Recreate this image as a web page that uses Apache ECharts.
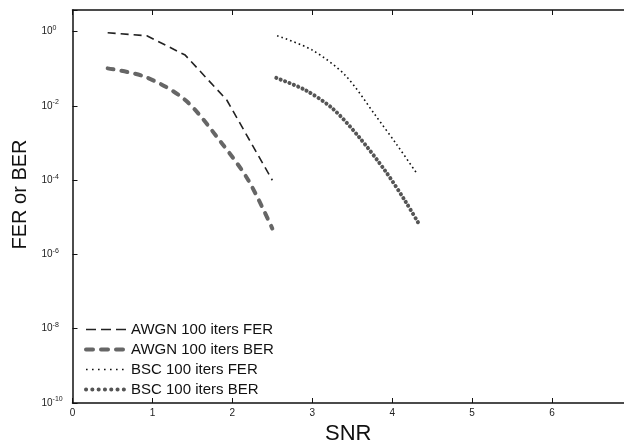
<!DOCTYPE html>
<html>
<head>
<meta charset="utf-8">
<title>FER / BER vs SNR</title>
<script src="https://cdn.jsdelivr.net/npm/echarts@6/dist/echarts.min.js"></script>
<style>
    html, body { margin: 0; padding: 0; background: #fff; }
    #SnrChart { width: 624px; height: 440px; }
</style>
</head>
<body>
<div id="SnrChart"></div>
<script>
//data
var seriesNames = ["AWGN 100 iters FER", "AWGN 100 iters BER", "BSC 100 iters FER", "BSC 100 iters BER"];

var awgnFerSnr = [0.44, 0.93, 1.41, 1.93, 2.50];
var awgnFerVal = [0.94, 0.78, 0.235, 0.0145, 1.0e-4];

var awgnBerSnr = [0.44, 0.91, 1.41, 1.87, 2.20, 2.50];
var awgnBerVal = [0.103, 0.061, 0.0145, 9.8e-4, 1.0e-4, 5.0e-6];

var bscFerSnr = [2.56, 3.00, 3.41, 3.79, 4.06, 4.31];
var bscFerVal = [0.78, 0.32, 0.068, 5.6e-3, 8.9e-4, 1.5e-4];

var bscBerSnr = [2.55, 2.91, 3.25, 3.58, 3.92, 4.17, 4.33];
var bscBerVal = [0.057, 0.027, 8.7e-3, 1.5e-3, 1.7e-4, 2.6e-5, 6.9e-6];

function pairs(xs, ys) {
    var out = [];
    for (var i = 0; i < xs.length; i++) {
        out.push([xs[i], ys[i]]);
    }
    return out;
}

//10^n labels, only even powers
function powLabel(v) {
    var e = Math.log10(v);
    var r = Math.round(e);
    if (Math.abs(e - r) > 1e-6 || r % 2 !== 0) {
        return "";
    }
    return "{b|10}{s|" + (r === 0 ? "0" : "-" + (-r)) + "}";
}

var SnrChart_option = {
    backgroundColor: "#fff",
    animation: false,
    textStyle: { fontFamily: "Liberation Sans, Arial, sans-serif" },
    grid: { left: 72.5, right: 0, top: 10, bottom: 37, outerBoundsMode: "none", containLabel: false },
    legend: {
        left: 84,
        top: 322,
        padding: 0,
        orient: "vertical",
        itemWidth: 40,
        itemHeight: 14,
        itemGap: 5,
        itemStyle: { opacity: 0 },
        data: [
            { name: seriesNames[0], lineStyle: { color: "#222", width: 1.6, type: [10, 5] } },
            { name: seriesNames[1], lineStyle: { color: "#666", width: 4, type: [7, 8], cap: "round" } },
            { name: seriesNames[2], lineStyle: { color: "#111", width: 1.6, type: [1.6, 4.4] } },
            { name: seriesNames[3], lineStyle: { color: "#555", width: 4, type: [0.1, 6.2], cap: "round" } }
        ],
        textStyle: { fontSize: 15, color: "#111", fontFamily: "Liberation Sans, Arial, sans-serif" }
    },
    xAxis: [{
        type: "value",
        min: 0,
        max: 6.9,
        interval: 1,
        name: "SNR",
        nameLocation: "middle",
        nameGap: 13,
        nameTextStyle: { fontSize: 22, color: "#111" },
        axisLine: { lineStyle: { color: "#111", width: 1.5 } },
        axisTick: { inside: true, length: 5, lineStyle: { color: "#111" } },
        axisLabel: { fontSize: 10, color: "#222", margin: 5, showMaxLabel: false },
        splitLine: { show: false }
    }, {
        type: "value",
        position: "top",
        min: 0,
        max: 6.9,
        interval: 1,
        axisLine: { show: true, lineStyle: { color: "#111", width: 1.5 } },
        axisTick: { inside: true, length: 5, lineStyle: { color: "#111" } },
        axisLabel: { show: false },
        splitLine: { show: false }
    }],
    yAxis: {
        type: "log",
        logBase: 10,
        min: 1e-10,
        max: 3.85,
        interval: 2,
        name: "FER or BER",
        nameLocation: "middle",
        nameGap: 42,
        nameTextStyle: { fontSize: 20, color: "#111", padding: [0, 0, 0, 24] },
        axisLine: { show: true, lineStyle: { color: "#111", width: 1.5 } },
        axisTick: { inside: true, length: 5, lineStyle: { color: "#111" } },
        axisLabel: {
            align: "left",
            margin: 31,
            formatter: powLabel,
            rich: {
                b: { fontSize: 10, color: "#222" },
                s: { fontSize: 7, color: "#222", verticalAlign: "bottom", padding: [0, 0, 7, 0] }
            }
        },
        splitLine: { show: false }
    },
    series: [{
        name: seriesNames[0],
        type: "line",
        symbol: "none",
        data: pairs(awgnFerSnr, awgnFerVal),
        lineStyle: { color: "#222", width: 1.6, type: [8, 5] },
        itemStyle: { color: "#222" }
    }, {
        name: seriesNames[1],
        type: "line",
        symbol: "none",
        smooth: 0.3,
        data: pairs(awgnBerSnr, awgnBerVal),
        lineStyle: { color: "#666", width: 4, type: [6, 8], cap: "round" },
        itemStyle: { color: "#666" }
    }, {
        name: seriesNames[2],
        type: "line",
        symbol: "none",
        smooth: 0.3,
        data: pairs(bscFerSnr, bscFerVal),
        lineStyle: { color: "#111", width: 1.6, type: [1.6, 3] },
        itemStyle: { color: "#111" }
    }, {
        name: seriesNames[3],
        type: "line",
        symbol: "none",
        smooth: 0.3,
        data: pairs(bscBerSnr, bscBerVal),
        lineStyle: { color: "#555", width: 4, type: [0.1, 4.6], cap: "round" },
        itemStyle: { color: "#555" }
    }]
};

//SnrChart
function drawSnrChart() {
    var dom = document.getElementById("SnrChart");
    var myChart = echarts.init(dom);
    var option = SnrChart_option;
    if (option && typeof option === "object") {
        myChart.setOption(option, true);
    }
}

drawSnrChart();
</script>
</body>
</html>
